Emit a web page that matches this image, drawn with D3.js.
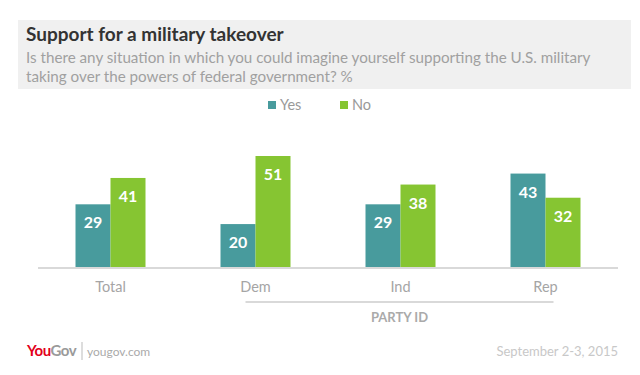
<!DOCTYPE html>
<html>
<head>
<meta charset="utf-8">
<script src="https://cdn.jsdelivr.net/npm/d3@7"></script>
<style>
  body { margin: 0; background: #fff; }
  svg { font-family: Lato, "Open Sans", sans-serif; display: block; }
</style>
</head>
<body>
<div id="chart"></div>
<script>
// data
const categories = ["Total", "Dem", "Ind", "Rep"];
const seriesNames = ["Yes", "No"];
const yesValues = [29, 20, 29, 43];
const noValues = [41, 51, 38, 32];
const colors = { Yes: "#489b9d", No: "#86c532" };

const W = 640, H = 375;
const svg = d3.select("#chart").append("svg")
    .attr("width", W)
    .attr("height", H);

// header box
svg.append("rect")
    .attr("x", 18).attr("y", 20)
    .attr("width", 613).attr("height", 69)
    .attr("fill", "#f0f0f0");

svg.append("text")
    .attr("x", 26).attr("y", 41)
    .attr("font-size", "19px")
    .attr("font-weight", "bold")
    .attr("fill", "#333")
    .text("Support for a military takeover");

svg.append("text")
    .attr("x", 26).attr("y", 63)
    .attr("font-size", "15.2px")
    .attr("fill", "#a0a0a0")
    .text("Is there any situation in which you could imagine yourself supporting the U.S. military");
svg.append("text")
    .attr("x", 26).attr("y", 82)
    .attr("font-size", "15.2px")
    .attr("fill", "#a0a0a0")
    .text("taking over the powers of federal government? %");

// legend
const legendX = [268, 340];
seriesNames.forEach((s, i) => {
    svg.append("rect")
        .attr("x", legendX[i]).attr("y", 101)
        .attr("width", 8).attr("height", 8)
        .attr("fill", colors[s]);
    svg.append("text")
        .attr("x", legendX[i] + 12).attr("y", 109.5)
        .attr("font-size", "14.5px")
        .attr("fill", "#999")
        .text(s);
});

// scales
const x0 = d3.scaleBand()
    .domain(categories)
    .range([38, 618]);

const x1 = d3.scaleBand()
    .domain(seriesNames)
    .range([0, 70]);

const y = d3.scaleLinear()
    .domain([0, 51])
    .range([268, 156]);

const data = categories.map((c, i) => ({
    cat: c,
    vals: [
        { key: "Yes", value: yesValues[i] },
        { key: "No", value: noValues[i] }
    ]
}));

const groups = svg.selectAll(".grp")
    .data(data)
    .enter()
    .append("g")
    .attr("class", "grp")
    .attr("transform", d => `translate(${x0(d.cat) + x0.bandwidth() / 2 - 35},0)`);

groups.selectAll("rect")
    .data(d => d.vals)
    .enter()
    .append("rect")
    .attr("x", d => x1(d.key))
    .attr("y", d => y(d.value))
    .attr("width", x1.bandwidth())
    .attr("height", d => y(0) - y(d.value))
    .attr("fill", d => colors[d.key]);

groups.selectAll(".val")
    .data(d => d.vals)
    .enter()
    .append("text")
    .attr("class", "val")
    .attr("x", d => x1(d.key) + x1.bandwidth() / 2)
    .attr("y", d => y(d.value) + 24)
    .attr("text-anchor", "middle")
    .attr("font-size", "16px")
    .attr("font-weight", "bold")
    .attr("fill", "#fff")
    .text(d => d.value);

// x axis
svg.append("line")
    .attr("x1", 38).attr("x2", 618)
    .attr("y1", 268).attr("y2", 268)
    .attr("stroke", "#d9d9d9")
    .attr("stroke-width", 2);

svg.selectAll(".cat")
    .data(categories)
    .enter()
    .append("text")
    .attr("class", "cat")
    .attr("x", d => x0(d) + x0.bandwidth() / 2)
    .attr("y", 292)
    .attr("text-anchor", "middle")
    .attr("font-size", "14.5px")
    .attr("fill", "#a5a5a5")
    .text(d => d);

// party id bracket
const pStart = x0("Dem") + x0.bandwidth() / 2 - 10;
const pEnd = x0("Rep") + x0.bandwidth() / 2 + 8;
svg.append("line")
    .attr("x1", pStart).attr("x2", pEnd)
    .attr("y1", 302).attr("y2", 302)
    .attr("stroke", "#d9d9d9")
    .attr("stroke-width", 2);
svg.append("text")
    .attr("x", (pStart + pEnd) / 2)
    .attr("y", 322)
    .attr("text-anchor", "middle")
    .attr("font-size", "13px")
    .attr("font-weight", "bold")
    .attr("fill", "#aaa")
    .text("PARTY ID");

// footer
const logo = svg.append("text")
    .attr("x", 27).attr("y", 356)
    .attr("font-size", "15px")
    .attr("font-weight", "bold")
    .attr("letter-spacing", "-0.5px");
logo.append("tspan").attr("fill", "#e2001a").text("You");
logo.append("tspan").attr("fill", "#9a9a9a").text("Gov");

svg.append("line")
    .attr("x1", 82).attr("x2", 82)
    .attr("y1", 342).attr("y2", 360)
    .attr("stroke", "#bbb");

svg.append("text")
    .attr("x", 87).attr("y", 356)
    .attr("font-size", "12px")
    .attr("fill", "#aaa")
    .text("yougov.com");

svg.append("text")
    .attr("x", 618).attr("y", 356)
    .attr("text-anchor", "end")
    .attr("font-size", "13px")
    .attr("fill", "#c8c8c8")
    .text("September 2-3, 2015");
</script>
</body>
</html>
